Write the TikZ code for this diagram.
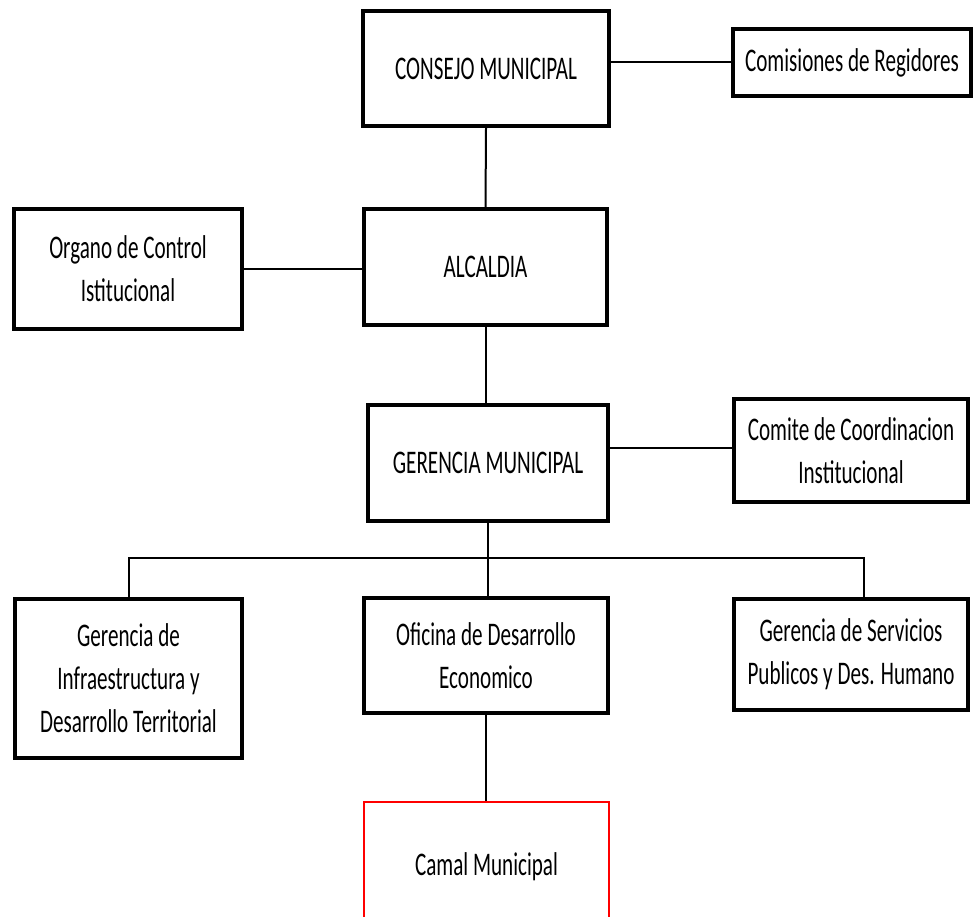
\documentclass[tikz,border=0pt]{standalone}
\usepackage{fontspec}
\setmainfont[FakeStretch=0.64]{Carlito}
\begin{document}
\begin{tikzpicture}[x=1pt,y=-1pt,
  box/.style={draw=black, line width=4pt, fill=white, align=center, inner sep=0pt,
    font=\fontsize{33}{43}\selectfont},
  redbox/.style={draw=red, line width=2pt, align=center, inner sep=0pt,
    font=\fontsize{33}{43}\selectfont},
  link/.style={draw=black, line width=2pt}]
\useasboundingbox (0,0) rectangle (976,917);
\clip (0,0) rectangle (976,917);
\fill[white] (0,0) rectangle (976,917);
\node[box, minimum width=246pt, minimum height=115pt] (consejo) at (486,68.5) {CONSEJO MUNICIPAL};
\node[box, minimum width=238pt, minimum height=67pt] (comisiones) at (852,62.5) {Comisiones de Regidores};
\node[box, minimum width=228pt, minimum height=120pt] (organo) at (128,269) {Organo de Control\\Istitucional};
\node[box, minimum width=243pt, minimum height=116pt] (alcaldia) at (485.5,267) {ALCALDIA};
\node[box, minimum width=240pt, minimum height=116pt] (gerencia) at (488,463) {GERENCIA MUNICIPAL};
\node[box, minimum width=234pt, minimum height=103pt] (comite) at (851,450.5) {Comite de Coordinacion\\Institucional};
\node[box, minimum width=227pt, minimum height=159pt] (infra) at (128.5,678.5) {Gerencia de\\Infraestructura y\\Desarrollo Territorial};
\node[box, minimum width=244pt, minimum height=115pt] (oficina) at (486,655.5) {Oficina de Desarrollo\\Economico};
\node[box, minimum width=234pt, minimum height=111pt] (servicios) at (851,654.5) {Gerencia de Servicios\\Publicos y Des. Humano};
\node[redbox, minimum width=245pt, minimum height=130pt] (camal) at (486.5,867) {Camal Municipal};
\coordinate (busL) at (129,558);
\coordinate (busR) at (864,558);
\coordinate (busM) at (486,558);
\begin{scope}[on background layer/.try]
\end{scope}
\draw[link] (consejo.east |- comisiones.west) -- (comisiones.west);
\draw[link] (organo.east) -- (alcaldia.west |- organo.east);
\draw[link] (gerencia.east |- 0,448) -- (comite.west |- 0,448);
\draw[link] (consejo.south) -- (alcaldia.north);
\draw[link] (alcaldia.south) -- (alcaldia.south |- gerencia.north);
\draw[link] (gerencia.south) -- (gerencia.south |- oficina.north);
\draw[link] (oficina.south) -- (oficina.south |- camal.north);
\draw[link] (busL |- infra.north) -- (busL) -- (busR) -- (busR |- servicios.north);
\end{tikzpicture}
\end{document}
